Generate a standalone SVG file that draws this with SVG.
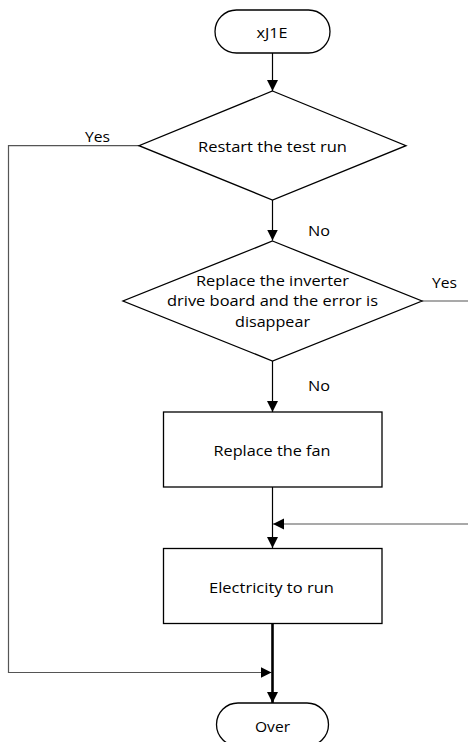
<svg xmlns="http://www.w3.org/2000/svg" width="468" height="742" viewBox="0 0 468 742">
<style>
.shape{fill:#fff;stroke:#000;stroke-width:1.3}
.t{font-family:"Open Sans","Liberation Sans",sans-serif;font-size:14px;fill:#000;text-anchor:middle;dominant-baseline:central}
.c{fill:none;stroke:#000;stroke-width:1.2}
.g{fill:none;stroke:#555;stroke-width:1.2}
</style>
<defs>
<marker id="ahb" viewBox="0 0 10 10" refX="10" refY="5" markerWidth="11" markerHeight="12" markerUnits="userSpaceOnUse" orient="auto">
<path d="M0,0 L10,5 L0,10 Z" fill="#000"/>
</marker>
</defs>
<rect width="468" height="742" fill="#fff"/>
<g id="connectors">
<line class="c" x1="272.5" y1="53" x2="272.5" y2="91" marker-end="url(#ahb)"/>
<line class="c" x1="272.5" y1="200" x2="272.5" y2="240.5" marker-end="url(#ahb)"/>
<line class="c" x1="272.5" y1="361" x2="272.5" y2="412" marker-end="url(#ahb)"/>
<line class="c" x1="272.5" y1="487" x2="272.5" y2="548" marker-end="url(#ahb)"/>
<polyline class="g" points="422,301 468,301"/>
<line class="g" x1="468" y1="524" x2="273" y2="524" marker-end="url(#ahb)"/>
<polyline class="g" points="139,145.7 8.5,145.7 8.5,672.5 271.5,672.5" marker-end="url(#ahb)"/>
<line x1="272.5" y1="624" x2="272.5" y2="703" stroke="#000" stroke-width="2.6" marker-end="url(#ahb)"/>
<text class="t" x="97.5" y="136.5" textLength="25" lengthAdjust="spacingAndGlyphs">Yes</text>
<text class="t" x="319" y="230" textLength="22" lengthAdjust="spacingAndGlyphs">No</text>
<text class="t" x="444.5" y="282" textLength="25" lengthAdjust="spacingAndGlyphs">Yes</text>
<text class="t" x="319" y="385" textLength="22" lengthAdjust="spacingAndGlyphs">No</text>
</g>
<g id="start">
<rect class="shape" x="215" y="10" width="115" height="43" rx="21.5" ry="21.5"/>
<text class="t" x="272" y="32" textLength="31" lengthAdjust="spacingAndGlyphs">xJ1E</text>
</g>
<g id="restart">
<polygon class="shape" points="272.5,91 406,145.7 272.5,200 139,145.7"/>
<text class="t" x="272.5" y="146" textLength="149" lengthAdjust="spacingAndGlyphs">Restart the test run</text>
</g>
<g id="replace-board">
<polygon class="shape" points="272.5,241 422,301 272.5,361 123,301"/>
<text class="t" x="272.5" y="280" textLength="153" lengthAdjust="spacingAndGlyphs">Replace the inverter</text>
<text class="t" x="272.5" y="300.5" textLength="211" lengthAdjust="spacingAndGlyphs">drive board and the error is</text>
<text class="t" x="272.5" y="321" textLength="75" lengthAdjust="spacingAndGlyphs">disappear</text>
</g>
<g id="replace-fan">
<rect class="shape" x="163.5" y="412" width="218.5" height="75"/>
<text class="t" x="272" y="450" textLength="117" lengthAdjust="spacingAndGlyphs">Replace the fan</text>
</g>
<g id="electricity">
<rect class="shape" x="163.5" y="548.5" width="218.5" height="75"/>
<text class="t" x="271.5" y="587" textLength="125" lengthAdjust="spacingAndGlyphs">Electricity to run</text>
</g>
<g id="over">
<rect class="shape" x="216.5" y="703" width="112" height="43" rx="21.5" ry="21.5"/>
<text class="t" x="272.5" y="726" textLength="35" lengthAdjust="spacingAndGlyphs">Over</text>
</g>
</svg>
